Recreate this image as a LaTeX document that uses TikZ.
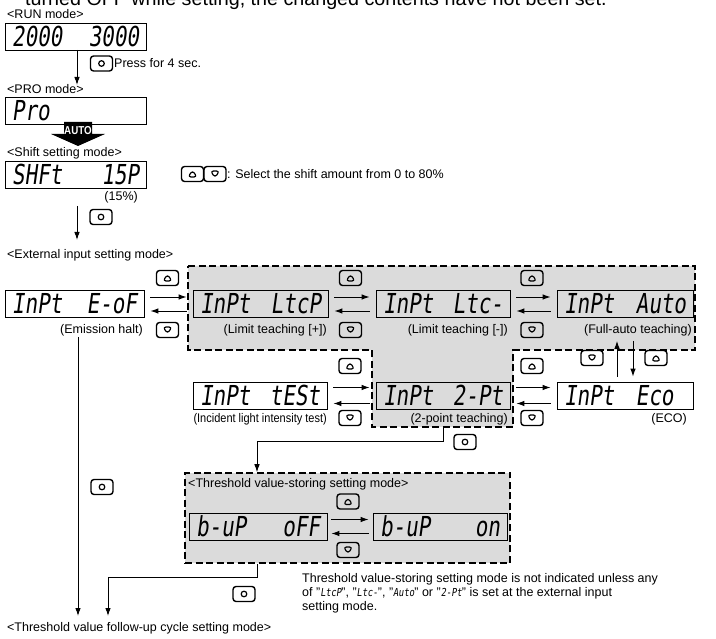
\documentclass[tikz,border=0pt]{standalone}
\usepackage{fontspec}
\setmainfont{Liberation Sans}
\newfontfamily\segfam[FakeSlant=0.18]{DejaVu Sans Mono}
\usetikzlibrary{arrows.meta}
\newcommand\dgrp[1]{\scalebox{0.76}[1]{\segfam\fontsize{27.5}{27.5}\selectfont #1}}
\newcommand\blank{\phantom{0}}
\newcommand\disp[3]{\makebox[#1]{\dgrp{#2}\hfill\dgrp{#3}}}
\newcommand\segs[1]{\scalebox{0.8}[1]{\segfam\fontsize{11}{11}\selectfont #1}}
\begin{document}
\begin{tikzpicture}[x=1pt,y=-1pt,
  font=\fontsize{12.5}{15}\selectfont,
  disp/.style={draw, line width=0.8pt, minimum height=27pt, inner sep=0pt},
  btn/.style={draw, line width=1.4pt, rounded corners=3pt, minimum width=22pt, minimum height=15pt, inner sep=0pt},
  btnup/.style={btn, path picture={\draw[line width=1.2pt, line join=round] ([shift={(-4.5pt,-3pt)}]path picture bounding box.center) -- ++(9pt,0pt) -- ++(-4.5pt,6.5pt) -- cycle;}},
  btndn/.style={btn, path picture={\draw[line width=1.2pt, line join=round] ([shift={(-4.5pt,3pt)}]path picture bounding box.center) -- ++(9pt,0pt) -- ++(-4.5pt,-6.5pt) -- cycle;}},
  btno/.style={btn, path picture={\draw[line width=1.2pt] (path picture bounding box.center) circle[radius=2.8pt];}},
  arr/.style={-{Latex[length=8pt,width=5.5pt]}, line width=0.9pt},
  dashbox/.style={draw, line width=1.5pt, dash pattern=on 7pt off 3.5pt, fill=black!14},
  lbl/.style={anchor=base west, inner sep=0pt},
  capt/.style={anchor=base east, inner sep=0pt}]
\useasboundingbox (0,0) rectangle (716,639);

% gray regions
\draw[dashbox] (188,266) -- (695,266) -- (695,350) -- (513,350) -- (513,427) -- (372,427) -- (372,350) -- (188,350) -- cycle;
\coordinate (stembot) at (443,427);
\node[dashbox, minimum width=325pt, minimum height=90pt] (thr) at (347.5,518) {};

% top text
\node[lbl, font=\fontsize{19.7}{23}\selectfont] (topline) at (25,6) {turned OFF while setting, the changed contents have not been set.};

% RUN / PRO / Shift
\node[lbl] (runl) at (7,19) {<RUN mode>};
\node[disp, minimum width=141pt] (run) at (75.5,36.5) {\disp{127pt}{2000}{3000}};
\node[btno] (b1) at (101.5,63.5) {};
\node[lbl] (press) at (114,68) {Press for 4 sec.};
\node[lbl] (prol) at (7,94) {<PRO mode>};
\coordinate (a1) at (77,50);
\coordinate (a1e) at (77,85);
\draw[arr] (a1) -- (a1e);
\node[disp, minimum width=141pt] (pro) at (75.5,110.5) {\disp{127pt}{Pro}{}};

\fill (64,122) -- (92,122) -- (92,134) -- (105,134) -- (78,146) -- (51,134) -- (64,134) -- cycle;
\node[text=white, inner sep=0pt, font=\bfseries\fontsize{11.5}{11.5}\selectfont] (autot) at (78,130.5) {\scalebox{0.85}[1]{AUTO}};

\node[lbl] (shl) at (7,156.5) {<Shift setting mode>};
\node[disp, minimum width=141pt] (shft) at (75.5,174.5) {\disp{127pt}{SHFt}{15P}};
\node[capt] (pct) at (138,201) {(15\%)};
\node[btnup] (bs1) at (192.5,174) {};
\node[btndn] (bs2) at (215,174) {};
\node[lbl] (sel) at (227,178.5) {: Select the shift amount from 0 to 80\%};
\coordinate (a2) at (77,206);
\coordinate (a2e) at (77,240);
\draw[arr] (a2) -- (a2e);
\node[btno] (b2) at (101,217) {};

% External input
\node[lbl] (extl) at (7,258.5) {<External input setting mode>};

\node[disp, minimum width=139pt] (eof) at (74.5,304) {\disp{125pt}{InPt}{E-oF}};
\node[disp, minimum width=135pt] (ltcp) at (260.5,304) {\disp{121pt}{InPt}{LtcP}};
\node[disp, minimum width=134pt] (ltcm) at (443,304) {\disp{120pt}{InPt}{Ltc-}};
\node[disp, minimum width=136pt] (auto) at (625,304) {\disp{122pt}{InPt}{Auto}};
\node[disp, minimum width=134pt] (test) at (260,395.5) {\disp{120pt}{InPt}{tESt}};
\node[disp, minimum width=134pt] (twopt) at (443,395.5) {\disp{120pt}{InPt}{2-Pt}};
\node[disp, minimum width=136pt] (eco) at (625,395.5) {\disp{122pt}{InPt}{Eco\blank}};

\node[capt] (c1) at (143,333.5) {(Emission halt)};
\node[capt] (c2) at (327,333.5) {(Limit teaching [+])};
\node[capt] (c3) at (508,333.5) {(Limit teaching [-])};
\node[capt] (c4) at (692,333.5) {(Full-auto teaching)};
\node[capt] (c5) at (327,422.5) {\scalebox{0.88}[1]{(Incident light intensity test)}};
\node[capt] (c6) at (508,422.5) {(2-point teaching)};
\node[capt] (c7) at (687,422.5) {(ECO)};

% row 1 arrows and buttons
\foreach \a/\b in {eof/ltcp, ltcp/ltcm, ltcm/auto}{
  \draw[arr] ([shift={(6pt,7pt)}]\a.east) -- ([shift={(-6pt,7pt)}]\b.west);
  \draw[arr] ([shift={(-6pt,-7pt)}]\b.west) -- ([shift={(6pt,-7pt)}]\a.east);
}
\node[btnup] (u1) at (167.5,278) {};
\node[btndn] (d1) at (167.5,330) {};
\node[btnup] (u2) at (350.5,278) {};
\node[btndn] (d2) at (350.5,330) {};
\node[btnup] (u3) at (532,278) {};
\node[btndn] (d3) at (532,330) {};

% row 2 arrows and buttons
\foreach \a/\b in {test/twopt, twopt/eco}{
  \draw[arr] ([shift={(6pt,8pt)}]\a.east) -- ([shift={(-6pt,8pt)}]\b.west);
  \draw[arr] ([shift={(-6pt,-8pt)}]\b.west) -- ([shift={(6pt,-8pt)}]\a.east);
}
\node[btnup] (u4) at (350,366) {};
\node[btndn] (d4) at (350,418) {};
\node[btnup] (u5) at (532,366) {};
\node[btndn] (d5) at (532,418) {};

% Auto <-> Eco
\draw[arr] ([shift={(-8pt,5pt)}]eco.north) -- ([shift={(-8pt,-23pt)}]auto.south);
\draw[arr] ([shift={(8pt,-23pt)}]auto.south) -- ([shift={(8pt,5pt)}]eco.north);
\node[btndn] (d6) at (592,358) {};
\node[btnup] (u6) at (656,358) {};

% to threshold storing
\draw[arr] (stembot) -- ++(0,14) -| ([xshift=-90.5pt]thr.north);
\node[btno] (b3) at (465,442) {};

% threshold storing mode
\node[lbl] (thrl) at (188,487.5) {<Threshold value-storing setting mode>};
\node[disp, minimum width=138pt] (boff) at (258,526.5) {\disp{124pt}{b-uP}{oFF}};
\node[disp, minimum width=134pt] (bon) at (440,526.5) {\disp{120pt}{b-uP}{on}};
\draw[arr] ([shift={(4pt,7pt)}]boff.east) -- ([shift={(-4pt,7pt)}]bon.west);
\draw[arr] ([shift={(-4pt,-7pt)}]bon.west) -- ([shift={(4pt,-7pt)}]boff.east);
\node[btnup] (u7) at (348,501.5) {};
\node[btndn] (d7) at (348,550) {};

% note
\node[lbl] (n1) at (302,582.5) {Threshold value-storing setting mode is not indicated unless any};
\node[lbl] (n2) at (302,596.5) {of "\segs{LtcP}", "\segs{Ltc-}", "\segs{Auto}" or "\segs{2-Pt}" is set at the external input};
\node[lbl] (n3) at (302,610.5) {setting mode.};

% bottom
\node[lbl] (tfu) at (7,631.5) {<Threshold value follow-up cycle setting mode>};
\coordinate (eofout) at (78,337);
\coordinate (tfuA) at (78,616);
\coordinate (tfuB) at (108,616);
\draw[arr] (eofout) -- (tfuA);
\node[btno] (b4) at (102,487) {};
\draw[arr] ([xshift=-90.5pt]thr.south) -- ++(0,14) -| (tfuB);
\node[btno] (b5) at (244,594) {};
\end{tikzpicture}
\end{document}
